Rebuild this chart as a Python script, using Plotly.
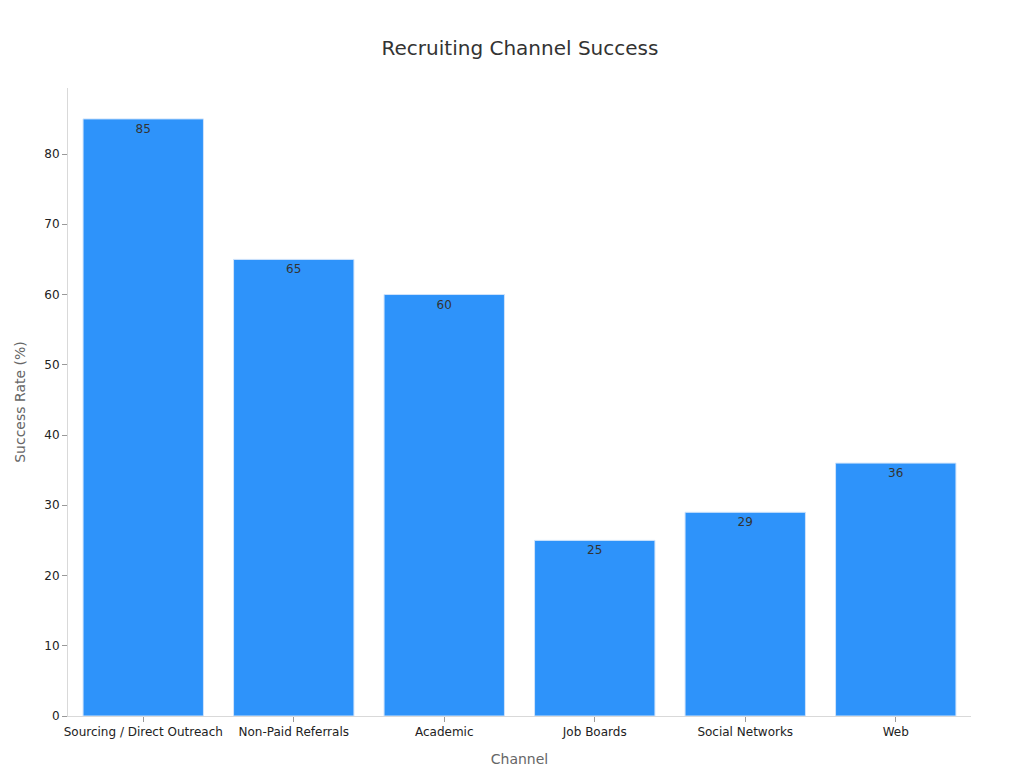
import plotly.graph_objects as go

channels = ["Sourcing / Direct Outreach", "Non-Paid Referrals", "Academic", "Job Boards", "Social Networks", "Web"]
success_rate = [85, 65, 60, 25, 29, 36]

fig = go.Figure(go.Bar(
    x=channels, y=success_rate, text=success_rate, textposition="inside",
    insidetextanchor="end", textfont=dict(color="#333333", size=12),
    marker=dict(color="#2E93FA", line=dict(color="#cfe3fb", width=1)),
    width=0.8,
))
fig.update_layout(
    title=dict(text="Recruiting Channel Success", x=0.5, y=0.957, font=dict(size=20, color="#333333")),
    font=dict(family="DejaVu Sans, sans-serif", size=12, color="#222222"),
    plot_bgcolor="white", paper_bgcolor="white",
    margin=dict(l=60, r=61, t=80, b=60),
    width=1024, height=768, showlegend=False,
)
fig.update_xaxes(title=dict(text="Channel", font=dict(size=14, color="#666666")),
                 showline=True, linecolor="#d9d9d9", ticks="outside", tickcolor="#999999", ticklen=5)
fig.update_yaxes(title=dict(text="Success Rate (%)", font=dict(size=14, color="#666666")),
                 range=[0, 89.4], dtick=10, showgrid=False, zeroline=False,
                 showline=True, linecolor="#d9d9d9", ticks="outside", tickcolor="#999999", ticklen=5)
fig.write_html("out.html")
